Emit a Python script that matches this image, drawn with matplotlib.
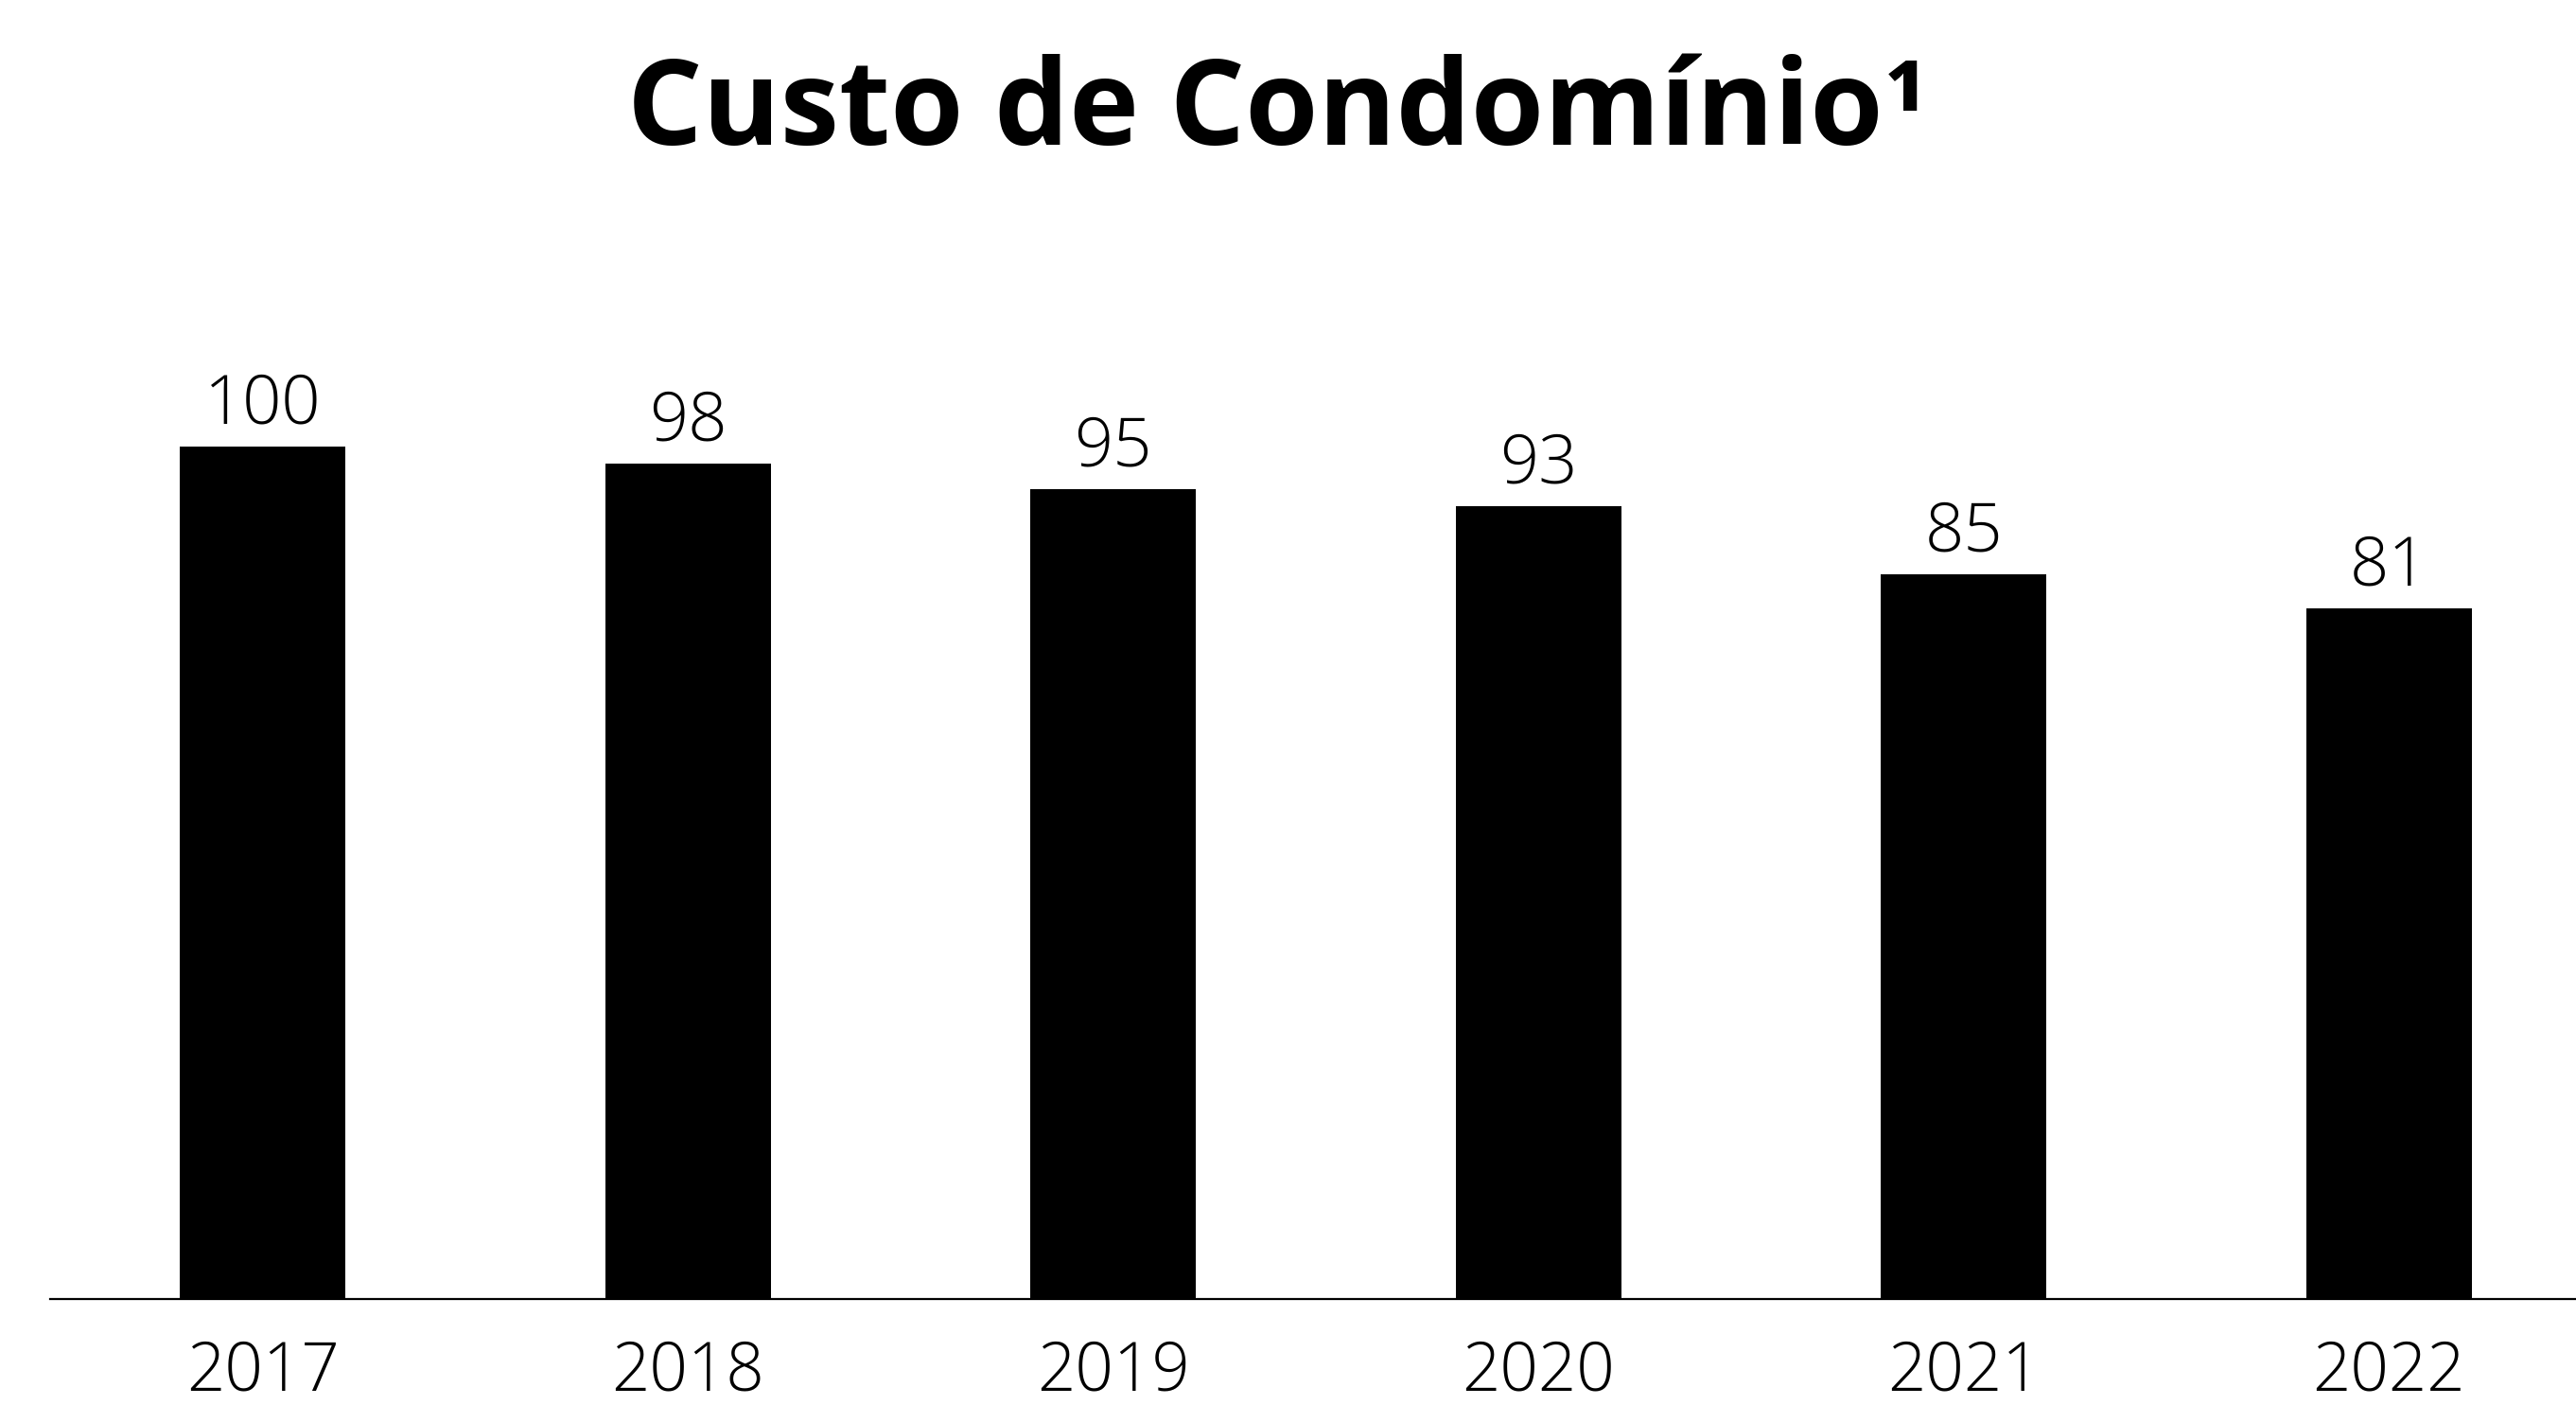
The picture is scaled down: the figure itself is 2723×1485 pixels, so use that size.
import matplotlib.pyplot as plt

years = ["2017", "2018", "2019", "2020", "2021", "2022"]
custo = [100, 98, 95, 93, 85, 81]

light = {"family": "Open Sans", "weight": "light"}

fig = plt.figure(figsize=(27.23, 14.85), dpi=100)
ax = fig.add_axes([53 / 2723, 1 - 1373 / 1485, 1 - 53 / 2723, (1373 - 371) / 1485])

x = list(range(len(years)))
ax.bar(x, custo, width=0.39, color="black")

for i, v in zip(x, custo):
    ax.annotate(str(v), (i, v), xytext=(0, 18), textcoords="offset points",
                ha="center", va="baseline", fontsize=52, **light)

ax.set_xlim(-0.5, 5.44)
ax.set_ylim(0, 100 * (1373 - 371) / 901)
ax.set_xticks(x)
ax.set_xticklabels(years, fontsize=51, **light)
ax.tick_params(axis="x", length=0, pad=30)
ax.set_yticks([])
for s in ["top", "right", "left"]:
    ax.spines[s].set_visible(False)
ax.spines["bottom"].set_linewidth(1.6)

fig.text(0.496, 1 - 153 / 1485, "Custo de Condomínio¹", ha="center", va="baseline",
         fontsize=90, family="Open Sans", weight="bold")

fig.savefig("out.png", dpi=100)
